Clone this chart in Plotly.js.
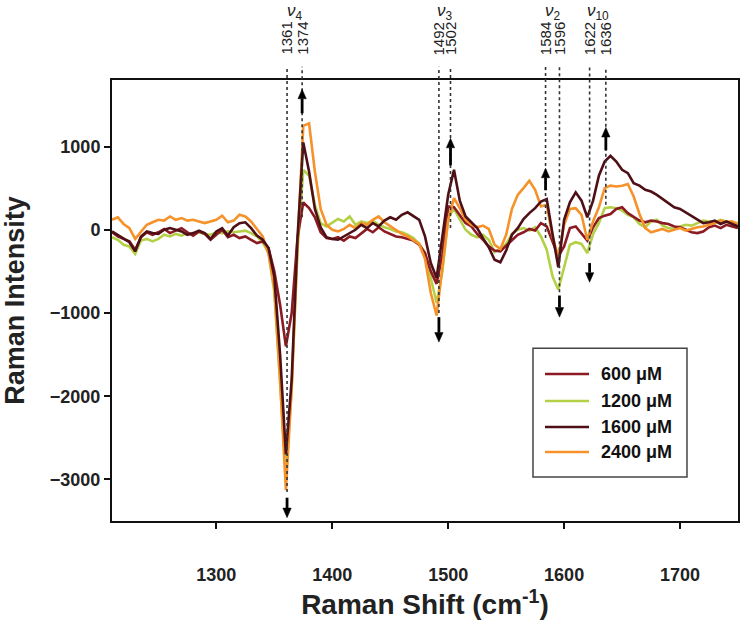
<!DOCTYPE html>
<html>
<head>
<meta charset="utf-8">
<script src="https://cdn.plot.ly/plotly-3.0.1.min.js"></script>
<style>html,body{margin:0;padding:0;background:#fff;}#chart{width:742px;height:621px;}</style>
</head>
<body>
<div id="chart"></div>
<script>
// Raman shift (cm-1)
const shift = [1210,1215,1220,1225,1230,1235,1240,1245,1250,1255,1260,1265,1270,1275,1280,1285,1290,1295,1300,1305,1310,1315,1320,1325,1330,1335,1340,1345,1350,1355,1360,1365,1370,1375,1380,1385,1390,1395,1400,1405,1410,1415,1420,1425,1430,1435,1440,1445,1450,1455,1460,1465,1470,1475,1480,1485,1490,1495,1500,1505,1510,1515,1520,1525,1530,1535,1540,1545,1550,1555,1560,1565,1570,1575,1580,1585,1590,1595,1600,1605,1610,1615,1620,1625,1630,1635,1640,1645,1650,1655,1660,1665,1670,1675,1680,1685,1690,1695,1700,1705,1710,1715,1720,1725,1730,1735,1740,1745,1750];

const int600 = [-30,-80,-110,-140,-240,-90,-30,-60,-30,10,-40,-10,20,-30,-70,-20,-50,-120,-60,0,-90,-60,-100,-80,-120,-160,-140,-220,-500,-900,-1400,-1000,-100,330,260,150,-30,-100,-110,-90,-130,-80,-100,-40,10,-30,30,-20,-50,-80,-90,-110,-130,-180,-280,-500,-650,-300,280,270,170,80,40,-50,-120,-200,-250,-260,-190,-120,-60,-30,10,-10,80,40,-150,-320,-200,20,40,-40,-130,30,140,170,190,250,270,200,150,110,90,110,100,80,70,40,30,0,-30,-40,-20,30,50,20,60,40,20];

const int1200 = [-90,-120,-180,-200,-290,-130,-110,-140,-110,-60,-80,-50,-70,-40,-60,-30,-50,-60,-30,-40,-20,-30,-20,-10,-40,-80,-150,-280,-750,-1800,-2950,-1900,-250,720,650,300,80,40,80,130,100,160,60,100,80,110,60,30,10,-20,-30,-60,-100,-170,-280,-600,-880,-500,150,250,130,0,-60,-90,-60,-120,-270,-230,-170,-50,0,20,-10,30,-80,-240,-560,-720,-450,-180,-150,-170,-280,-50,80,260,270,260,230,180,150,70,30,100,120,50,20,10,40,60,50,80,110,100,90,120,100,90,80];

const int1600 = [-20,-60,-100,-150,-260,-80,-20,-40,-50,0,20,0,-20,-60,-40,-10,-40,-110,-20,20,-70,30,80,90,20,-70,-120,-220,-560,-1500,-2700,-1800,-100,1050,700,250,30,-90,-110,-120,-80,-40,0,60,20,80,40,110,150,120,180,210,160,120,-80,-400,-580,-80,420,720,350,160,90,20,-100,-210,-360,-390,-250,-60,20,130,200,260,340,370,-50,-450,120,330,450,350,150,350,650,820,890,820,720,680,560,530,480,460,420,370,320,270,250,210,170,120,80,90,110,70,100,70,40];

const int2400 = [120,150,70,20,-110,-20,60,90,120,110,160,120,140,110,120,100,80,100,120,170,90,110,180,160,100,10,-80,-290,-690,-1800,-3130,-1900,-200,1250,1280,700,250,60,0,-20,10,60,20,80,60,120,160,90,40,-10,-50,-80,-130,-170,-350,-760,-1030,-450,120,380,260,120,60,30,50,10,-180,-230,-60,250,420,500,590,480,280,300,-80,-330,60,250,260,180,-120,100,270,500,530,520,530,550,400,190,20,-30,-10,10,-20,0,20,-10,10,30,40,60,80,110,90,100,60];

const seriesNames = ['600 \u03bcM','1200 \u03bcM','1600 \u03bcM','2400 \u03bcM'];
const seriesColors = ['#8B1A22','#B4D046','#4E1016','#F5922A'];

// marked band positions (cm-1) and direction of change
const peakPos = [1361,1374,1492,1502,1584,1596,1622,1636];
const lineEnd = [-3150,150,-1000,20,-100,-750,-250,300];
const arrowTail = [-3220,1400,-1050,775,475,-790,-400,955];
const arrowHead = [-3460,1690,-1350,1100,740,-1050,-630,1230];
const modeLabels = ['<i>\u03bd</i><sub>4</sub>','<i>\u03bd</i><sub>3</sub>','<i>\u03bd</i><sub>2</sub>','<i>\u03bd</i><sub>10</sub>'];
const modePairs = [[1361,1374],[1492,1502],[1584,1596],[1622,1636]];

const xTicks = [1300,1400,1500,1600,1700];
const yTicks = [-3000,-2000,-1000,0,1000];
const xRange = [1210,1750];
const yRange = [-3500,1800];

const FONT = 'Liberation Sans, Arial, Helvetica, sans-serif';
const seriesData = [int600,int1200,int1600,int2400];
const drawOrder = [1,0,3,2];

const traces = drawOrder.map(k => ({
  type:'scatter', mode:'lines', x: shift, y: seriesData[k], name: seriesNames[k],
  line:{color: seriesColors[k], width:2.6}, showlegend:false
}));

function toPaperY(v){ return (v - yRange[0])/(yRange[1]-yRange[0]); }

const shapes = [];
const annotations = [];

// arrow head size in axis units (about 9 px tall, 8 px wide)
const headLen = 115, headHalf = 3.6;

peakPos.forEach((p,i) => {
  shapes.push({type:'line', xref:'x', yref:'paper', x0:p, x1:p, y0:toPaperY(lineEnd[i]), y1:1.03,
    line:{color:'#333', width:1.6, dash:'dot'}});
  annotations.push({xref:'x', yref:'paper', x:p, y:1.052, yanchor:'bottom', xanchor:'center',
    text:String(p), textangle:-90, showarrow:false, font:{family:FONT, size:15, color:'#222'}});
  const dir = arrowHead[i] > arrowTail[i] ? 1 : -1;
  const base = arrowHead[i] - dir*headLen;
  shapes.push({type:'line', xref:'x', yref:'y', x0:p, x1:p, y0:arrowTail[i], y1:base,
    line:{color:'#000', width:2.8}});
  shapes.push({type:'path', xref:'x', yref:'y',
    path:`M ${p-headHalf},${base} L ${p+headHalf},${base} L ${p},${arrowHead[i]} Z`,
    fillcolor:'#000', line:{color:'#000', width:0.5}});
});

modePairs.forEach((pr,i) => {
  annotations.push({xref:'x', yref:'paper', x:(pr[0]+pr[1])/2, y:1.155, yanchor:'middle', xanchor:'center',
    text:modeLabels[i], showarrow:false, font:{family:FONT, size:17, color:'#222'}});
});

// legend box drawn in plot (paper) coordinates
const legX0 = 0.6725, legX1 = 0.9185, legY0 = 0.0998, legY1 = 0.392;
shapes.push({type:'rect', xref:'paper', yref:'paper', x0:legX0, x1:legX1, y0:legY0, y1:legY1,
  line:{color:'#444', width:1.5}, fillcolor:'rgba(255,255,255,0)'});
const legRows = [0.3333,0.2721,0.2132,0.1565];
seriesNames.forEach((nm,k) => {
  shapes.push({type:'line', xref:'paper', yref:'paper', x0:0.6917, x1:0.762, y0:legRows[k], y1:legRows[k],
    line:{color:seriesColors[k], width:2.6}});
  annotations.push({xref:'paper', yref:'paper', x:0.778, y:legRows[k], xanchor:'left', yanchor:'middle',
    text:nm, showarrow:false, font:{family:FONT, size:18, color:'#111', weight:700}});
});

const layout = {
  width:742, height:621,
  margin:{l:112, r:4, t:80, b:100},
  paper_bgcolor:'#fff', plot_bgcolor:'#fff',
  showlegend:false,
  font:{family:FONT, color:'#111'},
  xaxis:{range:xRange, tickvals:xTicks, ticks:'outside', ticklen:6, tickwidth:2, tickcolor:'#111',
    showline:true, linewidth:2, linecolor:'#111', mirror:true, showgrid:false, zeroline:false,
    ticklabelstandoff:30,
    tickfont:{family:FONT, size:18, weight:700, color:'#222'},
    title:{text:'Raman Shift (cm<sup>-1</sup>)', font:{family:FONT, size:28, weight:700, color:'#222'}, standoff:6}},
  yaxis:{range:yRange, tickvals:yTicks, ticks:'outside', ticklen:6, tickwidth:2, tickcolor:'#111',
    showline:true, linewidth:2, linecolor:'#111', mirror:true, showgrid:false, zeroline:false,
    tickfont:{family:FONT, size:18, weight:700, color:'#222'},
    title:{text:'Raman Intensity', font:{family:FONT, size:27, weight:700, color:'#222'}, standoff:18}},
  shapes: shapes,
  annotations: annotations
};

Plotly.newPlot('chart', traces, layout, {displayModeBar:false, staticPlot:true});
</script>
</body>
</html>
